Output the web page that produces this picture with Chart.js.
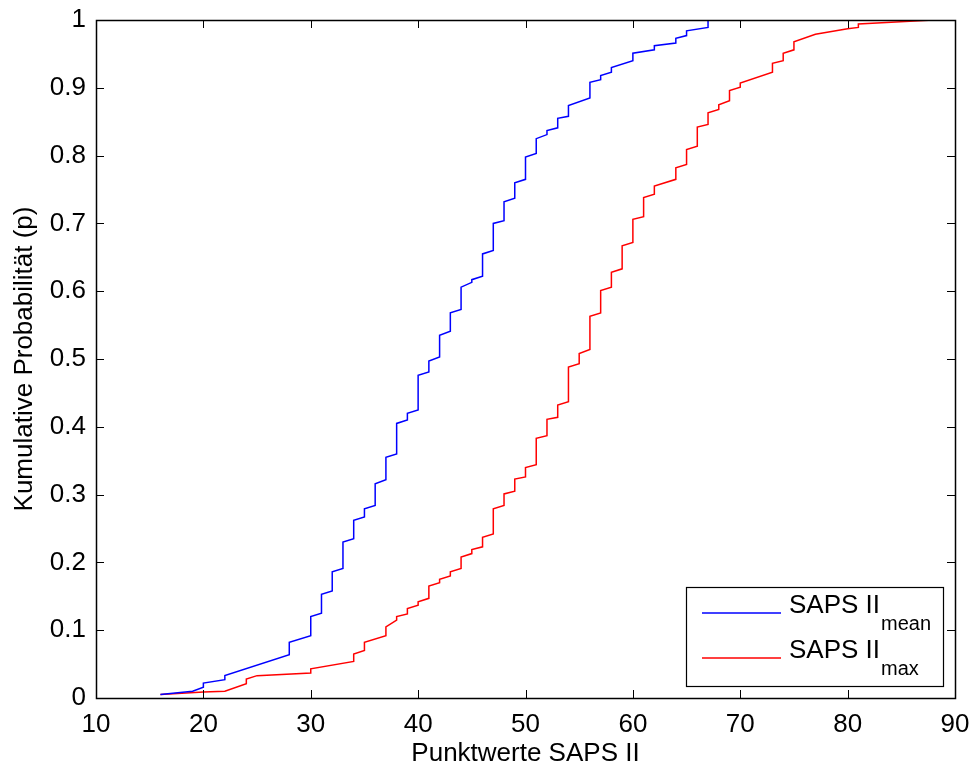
<!DOCTYPE html>
<html>
<head>
<meta charset="utf-8">
<script src="https://cdn.jsdelivr.net/npm/chart.js@4"></script>
<style>
    html, body { margin: 0; padding: 0; background: #fff; }
    #wrap { width: 975px; height: 766px; }
</style>
</head>
<body>
<div id="wrap"><canvas id="cdfChart" width="975" height="766"></canvas></div>
<script>
// SAPS II mean: step vertices (x score, cumulative p)
const meanX = [16, 19, 20, 20, 22, 22, 28, 28, 30, 30, 31, 31, 32, 32, 33, 33, 34, 34, 35, 35,
    36, 36, 37, 37, 38, 38, 39, 39, 40, 40, 41, 41, 42, 42, 43, 43, 44, 44, 45, 45,
    46, 46, 47, 47, 48, 48, 49, 49, 50, 50, 51, 51, 52, 52, 53, 53, 54, 54, 56, 56,
    57, 57, 58, 58, 60, 60, 62, 62, 64, 64, 65, 65, 67, 67];
const meanP = [0.005, 0.010, 0.016, 0.022, 0.027, 0.033, 0.064, 0.082, 0.092, 0.120, 0.125, 0.153, 0.158, 0.186, 0.191, 0.230, 0.235, 0.262, 0.267, 0.279,
    0.284, 0.316, 0.322, 0.355, 0.360, 0.405, 0.410, 0.420, 0.425, 0.476, 0.481, 0.497, 0.503, 0.535, 0.541, 0.568, 0.573, 0.606, 0.613, 0.617,
    0.622, 0.655, 0.660, 0.700, 0.704, 0.732, 0.737, 0.760, 0.765, 0.798, 0.803, 0.825, 0.831, 0.837, 0.841, 0.855, 0.858, 0.874, 0.885, 0.908,
    0.912, 0.918, 0.923, 0.930, 0.940, 0.951, 0.956, 0.962, 0.966, 0.973, 0.977, 0.984, 0.989, 1.000];

// SAPS II max
const maxX = [16, 20, 22, 24, 24, 25, 30, 30, 34, 34, 35, 35, 37, 37, 38, 38, 39, 39, 40, 40,
    41, 41, 42, 42, 43, 43, 44, 44, 45, 45, 46, 46, 47, 47, 48, 48, 49, 49, 50, 50,
    51, 51, 52, 52, 53, 53, 54, 54, 55, 55, 56, 56, 57, 57, 58, 58, 59, 59, 60, 60,
    61, 61, 62, 62, 64, 64, 65, 65, 66, 66, 67, 67, 68, 68, 69, 69, 70, 70, 73, 73,
    74, 74, 75, 75, 77, 80, 81, 81, 88];
const maxP = [0.005, 0.009, 0.010, 0.021, 0.028, 0.033, 0.037, 0.043, 0.054, 0.065, 0.070, 0.082, 0.092, 0.105, 0.115, 0.120, 0.124, 0.132, 0.137, 0.142,
    0.147, 0.165, 0.170, 0.175, 0.180, 0.186, 0.191, 0.208, 0.213, 0.219, 0.223, 0.237, 0.242, 0.279, 0.284, 0.301, 0.305, 0.323, 0.326, 0.340,
    0.344, 0.383, 0.387, 0.411, 0.414, 0.432, 0.437, 0.488, 0.493, 0.508, 0.514, 0.563, 0.568, 0.601, 0.606, 0.628, 0.633, 0.667, 0.672, 0.706,
    0.710, 0.738, 0.743, 0.755, 0.765, 0.782, 0.787, 0.809, 0.814, 0.842, 0.846, 0.863, 0.868, 0.875, 0.881, 0.896, 0.901, 0.907, 0.923, 0.936,
    0.940, 0.951, 0.956, 0.968, 0.979, 0.987, 0.989, 0.994, 1.000];

const seriesNames = ['SAPS II', 'SAPS II'];
const seriesSubs = ['mean', 'max'];
const seriesColors = ['#0000ff', '#ff0000'];

const FONT = '"Liberation Sans", Arial, Helvetica, sans-serif';
const FSIZE = 26;

function toPoints(xs, ys) {
    return xs.map((x, i) => ({ x: x, y: ys[i] }));
}

// MATLAB style box: frame with inward ticks on all four sides
const boxTicks = {
    id: 'boxTicks',
    afterDraw(chart) {
        const ctx = chart.ctx;
        const a = chart.chartArea;
        const xs = chart.scales.x, ys = chart.scales.y;
        const len = 8;
        ctx.save();
        ctx.strokeStyle = '#000';
        ctx.lineWidth = 1;
        ctx.beginPath();
        xs.ticks.forEach(t => {
            const px = Math.round(xs.getPixelForValue(t.value)) + 0.5;
            ctx.moveTo(px, a.bottom); ctx.lineTo(px, a.bottom - len);
            ctx.moveTo(px, a.top); ctx.lineTo(px, a.top + len);
        });
        ys.ticks.forEach(t => {
            const py = Math.round(ys.getPixelForValue(t.value)) + 0.5;
            ctx.moveTo(a.left, py); ctx.lineTo(a.left + len, py);
            ctx.moveTo(a.right, py); ctx.lineTo(a.right - len, py);
        });
        ctx.stroke();
        ctx.lineWidth = 1.5;
        ctx.strokeRect(Math.round(a.left) + 0.5, Math.round(a.top) + 0.5,
            Math.round(a.right - a.left), Math.round(a.bottom - a.top));
        ctx.restore();
    }
};

// legend with subscripts, lower right inside the axes
const subLegend = {
    id: 'subLegend',
    afterDraw(chart) {
        const ctx = chart.ctx;
        const a = chart.chartArea;
        const w = 257, h = 99;
        const left = a.right - 12 - w, top = a.bottom - 12 - h;
        ctx.save();
        ctx.fillStyle = '#fff';
        ctx.fillRect(left, top, w, h);
        ctx.strokeStyle = '#000';
        ctx.lineWidth = 1.2;
        ctx.strokeRect(Math.round(left) + 0.5, Math.round(top) + 0.5, w, h);
        chart.data.datasets.forEach((ds, i) => {
            const y = top + 26 + i * 45;
            ctx.strokeStyle = ds.borderColor;
            ctx.lineWidth = 1.3;
            ctx.beginPath();
            ctx.moveTo(left + 16, y);
            ctx.lineTo(left + 95, y);
            ctx.stroke();
            ctx.fillStyle = '#000';
            ctx.textBaseline = 'alphabetic';
            ctx.textAlign = 'left';
            ctx.font = FSIZE + 'px ' + FONT;
            ctx.fillText(seriesNames[i], left + 103, y);
            const mw = ctx.measureText(seriesNames[i]).width;
            ctx.font = '20px ' + FONT;
            ctx.fillText(seriesSubs[i], left + 104 + mw, y + 17);
        });
        ctx.restore();
    }
};

const ctx = document.getElementById('cdfChart').getContext('2d');
new Chart(ctx, {
    type: 'line',
    data: {
        datasets: [
            {
                label: seriesNames[0] + ' ' + seriesSubs[0],
                data: toPoints(meanX, meanP),
                borderColor: seriesColors[0],
                borderWidth: 1.5,
                pointRadius: 0,
                tension: 0,
                fill: false
            },
            {
                label: seriesNames[1] + ' ' + seriesSubs[1],
                data: toPoints(maxX, maxP),
                borderColor: seriesColors[1],
                borderWidth: 1.5,
                pointRadius: 0,
                tension: 0,
                fill: false
            }
        ]
    },
    options: {
        responsive: false,
        animation: false,
        layout: { padding: { top: 20, right: 20, left: 0, bottom: 0 } },
        plugins: {
            legend: { display: false },
            tooltip: { enabled: false }
        },
        scales: {
            x: {
                type: 'linear',
                min: 10,
                max: 90,
                afterFit(scale) {
                    scale.height = 68;
                    scale.paddingLeft = 0;
                    scale.paddingRight = 0;
                },
                grid: { display: false, drawTicks: false },
                border: { display: false },
                ticks: {
                    stepSize: 10,
                    color: '#000',
                    padding: 11,
                    maxRotation: 0,
                    font: { family: FONT, size: FSIZE }
                },
                title: {
                    display: true,
                    text: 'Punktwerte SAPS II',
                    color: '#000',
                    padding: { top: 0, bottom: -3 },
                    font: { family: FONT, size: FSIZE }
                }
            },
            y: {
                min: 0,
                max: 1,
                afterFit(scale) {
                    scale.width = 96;
                    scale.paddingTop = 0;
                    scale.paddingBottom = 0;
                },
                grid: { display: false, drawTicks: false },
                border: { display: false },
                ticks: {
                    stepSize: 0.1,
                    color: '#000',
                    padding: 10,
                    font: { family: FONT, size: FSIZE },
                    callback: (v) => String(Math.round(v * 10) / 10)
                },
                title: {
                    display: true,
                    text: 'Kumulative Probabilität (p)',
                    color: '#000',
                    padding: { top: 9, bottom: 0 },
                    font: { family: FONT, size: FSIZE }
                }
            }
        }
    },
    plugins: [boxTicks, subLegend]
});
</script>
</body>
</html>
